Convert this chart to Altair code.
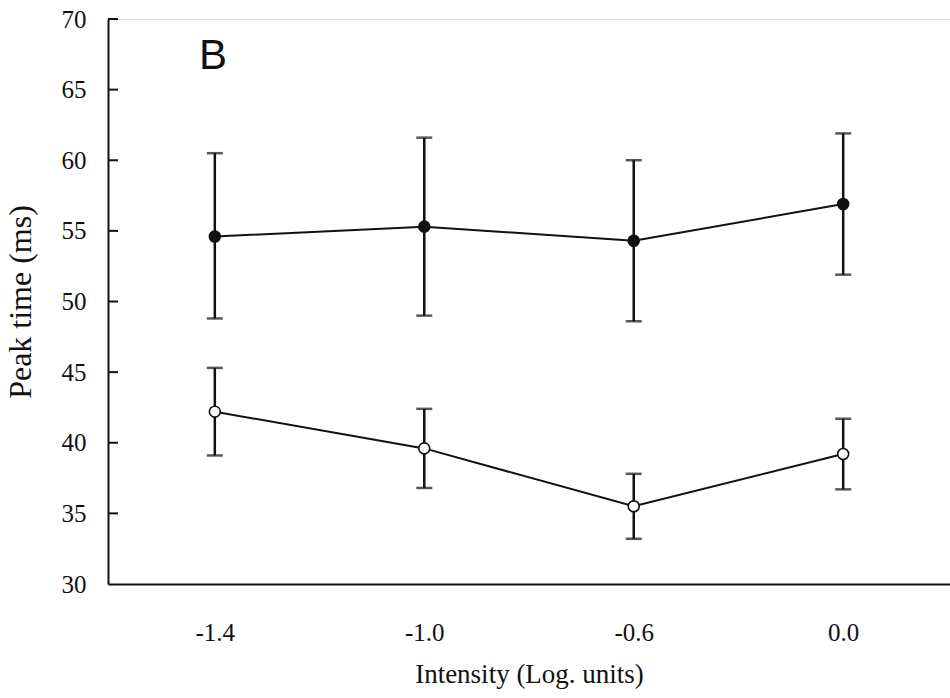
import altair as alt
import pandas as pd

# Stimulus intensities (log units), in plotting order
intensity = ["-1.4", "-1.0", "-0.6", "0.0"]

# Filled-circle series: mean peak time and error-bar limits (ms)
filled_mean = [54.6, 55.3, 54.3, 56.9]
filled_lo = [48.8, 49.0, 48.6, 51.9]
filled_hi = [60.5, 61.6, 60.0, 61.9]

# Open-circle series: mean peak time and error-bar limits (ms)
open_mean = [42.2, 39.6, 35.5, 39.2]
open_lo = [39.1, 36.8, 33.2, 36.7]
open_hi = [45.3, 42.4, 37.8, 41.7]

y_ticks = [30, 35, 40, 45, 50, 55, 60, 65, 70]

rows = []
for i, lab in enumerate(intensity):
    rows.append(dict(intensity=lab, group="filled", mean=filled_mean[i],
                     lo=filled_lo[i], hi=filled_hi[i]))
    rows.append(dict(intensity=lab, group="open", mean=open_mean[i],
                     lo=open_lo[i], hi=open_hi[i]))
df = pd.DataFrame(rows)
ticks_df = pd.DataFrame({"v": y_ticks[1:]})

SERIF = "Liberation Serif"
INK = "#111111"

x_enc = alt.X(
    "intensity:N",
    sort=intensity,
    scale=alt.Scale(type="point", padding=0.51),
    axis=alt.Axis(
        title="Intensity (Log. units)",
        labelAngle=0,
        ticks=False,
        grid=False,
        domainColor=INK,
        domainWidth=2,
        labelFont=SERIF,
        labelFontSize=25,
        labelColor=INK,
        labelPadding=36,
        titleFont=SERIF,
        titleFontSize=27,
        titleFontWeight="normal",
        titleColor=INK,
        titlePadding=16,
    ),
)
y_scale = alt.Scale(domain=[30, 70], nice=False, zero=False)
y_axis = alt.Axis(
    title="Peak time (ms)",
    values=y_ticks,
    ticks=False,
    grid=False,
    domainColor=INK,
    domainWidth=2,
    labelFont=SERIF,
    labelFontSize=25,
    labelColor=INK,
    labelPadding=22,
    titleFont=SERIF,
    titleFontSize=32,
    titleFontWeight="normal",
    titleColor=INK,
    titlePadding=24,
)

base = alt.Chart(df)

lines = base.mark_line(color=INK, strokeWidth=2).encode(
    x=x_enc,
    y=alt.Y("mean:Q", scale=y_scale, axis=y_axis),
    detail="group:N",
)

bars = base.mark_rule(color=INK, strokeWidth=2.5).encode(
    x=alt.X("intensity:N", sort=intensity),
    y="lo:Q",
    y2="hi:Q",
)

caps_lo = base.mark_tick(color=INK, orient="horizontal", size=16, thickness=2.5).encode(
    x=alt.X("intensity:N", sort=intensity),
    y="lo:Q",
)
caps_hi = base.mark_tick(color=INK, orient="horizontal", size=16, thickness=2.5).encode(
    x=alt.X("intensity:N", sort=intensity),
    y="hi:Q",
)

points = base.mark_point(filled=True, size=120, strokeWidth=1.6, opacity=1).encode(
    x=alt.X("intensity:N", sort=intensity),
    y="mean:Q",
    fill=alt.Fill("group:N", scale=alt.Scale(domain=["filled", "open"],
                                             range=[INK, "white"]), legend=None),
    stroke=alt.value(INK),
    shape=alt.value("circle"),
)

# inward-pointing tick marks on the y axis
inner_ticks = alt.Chart(ticks_df).mark_rule(color=INK, strokeWidth=2).encode(
    x=alt.value(0),
    x2=alt.value(10),
    y=alt.Y("v:Q"),
)

panel_label = alt.Chart(pd.DataFrame({"t": ["B"]})).mark_text(
    font="Liberation Sans", fontSize=42, color=INK,
    align="center", baseline="alphabetic",
).encode(x=alt.value(105), y=alt.value(50), text="t:N")

chart = alt.layer(lines, bars, caps_lo, caps_hi, points, inner_ticks, panel_label).properties(
    width=842,
    height=565,
    autosize=alt.AutoSizeParams(type="none"),
    padding={"left": 108, "top": 19, "right": 0, "bottom": 114},
).configure_view(stroke=None).configure(background="white")

chart.save("out.html", embed_options={"renderer": "svg", "actions": False})
